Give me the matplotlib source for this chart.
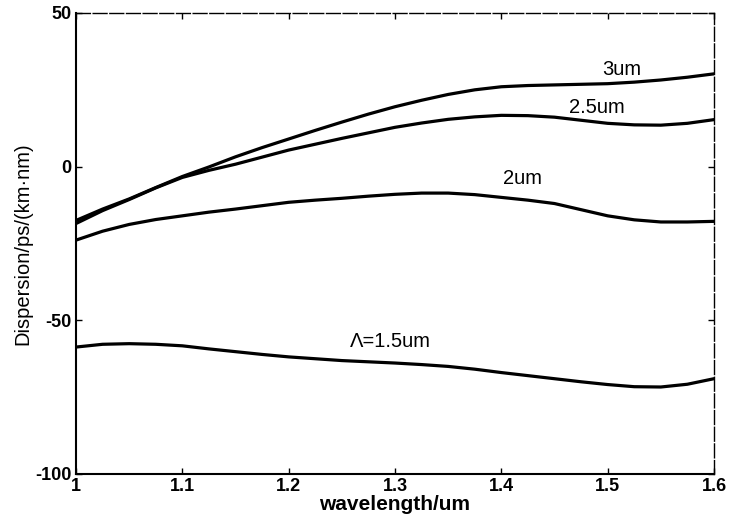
import matplotlib
matplotlib.use('Agg')

import matplotlib.pyplot as plt
import numpy as np

plt.rcParams['font.family'] = ['Liberation Sans', 'DejaVu Sans']
plt.rcParams['axes.unicode_minus'] = False

wavelength = [1.000, 1.025, 1.050, 1.075, 1.100, 1.125, 1.150, 1.175, 1.200,
              1.225, 1.250, 1.275, 1.300, 1.325, 1.350, 1.375, 1.400, 1.425,
              1.450, 1.475, 1.500, 1.525, 1.550, 1.575, 1.600]

d_3um = [-17.5, -13.8, -10.5, -6.8, -3.2, -0.1, 3.2, 6.2, 9.0,
         11.8, 14.5, 17.1, 19.5, 21.6, 23.5, 25.0, 26.0, 26.4,
         26.6, 26.8, 27.0, 27.5, 28.2, 29.1, 30.2]
d_25um = [-18.5, -14.3, -10.7, -6.9, -3.5, -1.2, 0.8, 3.1, 5.4,
          7.3, 9.2, 11.0, 12.8, 14.2, 15.4, 16.2, 16.7, 16.6,
          16.1, 15.1, 14.1, 13.6, 13.5, 14.1, 15.3]
d_2um = [-23.9, -21.0, -18.8, -17.2, -16.0, -14.8, -13.8, -12.7, -11.6,
         -10.9, -10.3, -9.6, -9.0, -8.6, -8.6, -9.1, -10.0, -10.9,
         -12.0, -14.0, -16.0, -17.3, -18.0, -18.0, -17.8]
d_15um = [-58.7, -57.8, -57.6, -57.8, -58.3, -59.3, -60.2, -61.1, -61.9,
          -62.5, -63.1, -63.5, -63.9, -64.4, -65.0, -65.9, -67.0, -68.0,
          -69.0, -70.0, -70.9, -71.6, -71.7, -70.8, -69.0]

labels = ['3um', '2.5um', '2um', '\u039b=1.5um']
label_pos = [(1.513, 31.5), (1.490, 19.4), (1.420, -3.8), (1.296, -57.0)]

xticks = [1, 1.1, 1.2, 1.3, 1.4, 1.5, 1.6]
xticklabels = ['1', '1.1', '1.2', '1.3', '1.4', '1.5', '1.6']
yticks = [-100, -50, 0, 50]

fig = plt.figure(figsize=(7.29, 5.22), dpi=100)
ax = fig.add_axes([0.1043, 0.092, 0.8751, 0.8831])

for d in [d_3um, d_25um, d_2um, d_15um]:
    ax.plot(wavelength, d, color='black', linewidth=2.3,
            solid_capstyle='round', solid_joinstyle='round')

for text, (x, y) in zip(labels, label_pos):
    ax.text(x, y, text, ha='center', va='center', fontsize=14.5)

ax.set_xlim(1, 1.6)
ax.set_ylim(-100, 50)
ax.set_xticks(xticks)
ax.set_xticklabels(xticklabels)
ax.set_yticks(yticks)
ax.tick_params(direction='in', top=True, right=True, length=4, width=1,
               labelsize=13, pad=3)
for lbl in ax.get_xticklabels() + ax.get_yticklabels():
    lbl.set_fontweight('bold')

for side in ['left', 'bottom']:
    ax.spines[side].set_linewidth(1.5)
for side in ['top', 'right']:
    ax.spines[side].set_linewidth(1.0)
    ax.spines[side].set_linestyle((0, (10, 2)))

ax.set_xlabel('wavelength/um', fontsize=15, fontweight='bold', labelpad=0)
ax.set_ylabel('Dispersion/ps/(km\u00b7nm)', fontsize=14.5, labelpad=2)

plt.savefig('out.png', dpi=100)
plt.close()
